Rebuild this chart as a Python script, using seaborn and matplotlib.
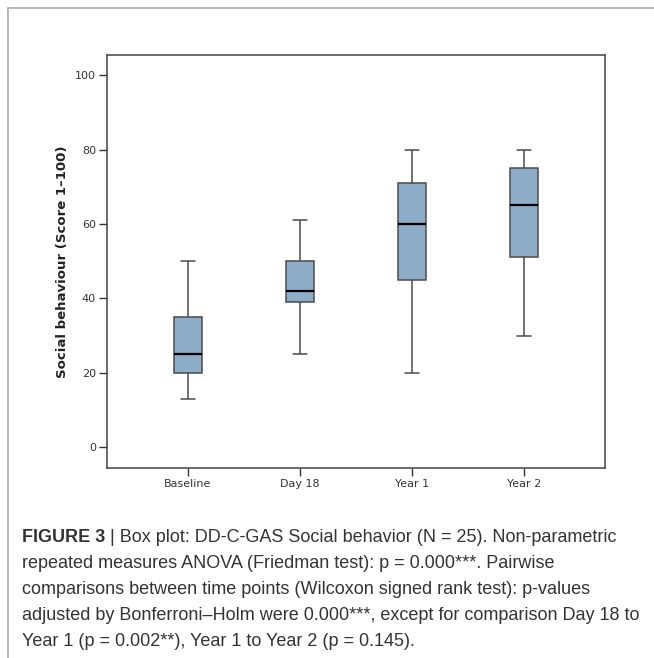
import matplotlib
matplotlib.use("Agg")
import matplotlib.pyplot as plt
import pandas as pd
import seaborn as sns

# five-number summaries (min, q1, median, q3, max)
timepoints = ["Baseline", "Day 18", "Year 1", "Year 2"]
baseline = [13, 20, 25, 35, 50]
day18 = [25, 39, 42, 50, 61]
year1 = [20, 45, 60, 71, 80]
year2 = [30, 51, 65, 75, 80]
yticks = [0, 20, 40, 60, 80, 100]

caption_bold = "FIGURE 3"
caption_lines = [
    " | Box plot: DD-C-GAS Social behavior (N = 25). Non-parametric",
    "repeated measures ANOVA (Friedman test): p = 0.000***. Pairwise",
    "comparisons between time points (Wilcoxon signed rank test): p-values",
    "adjusted by Bonferroni\u2013Holm were 0.000***, except for comparison Day 18 to",
    "Year 1 (p = 0.002**), Year 1 to Year 2 (p = 0.145).",
]

BOX = "#8EADC8"
EDGE = "#4a4a4a"

df = pd.DataFrame({
    "Time point": [t for t, v in zip(timepoints, [baseline, day18, year1, year2]) for _ in v],
    "Score": baseline + day18 + year1 + year2,
})

sns.set_style("ticks")
plt.rcParams["font.family"] = ["DejaVu Sans"]

fig = plt.figure(figsize=(6.54, 6.58), dpi=100)
ax = fig.add_axes([107 / 654, 1 - 468 / 658, 498 / 654, 413 / 658])

sns.boxplot(data=df, x="Time point", y="Score", ax=ax, color=BOX, saturation=1,
            width=0.25, linecolor=EDGE, linewidth=1.1, whis=1.5,
            medianprops=dict(color="black", linewidth=1.6))

ax.set_xlim(-0.723, 3.723)
ax.set_ylim(-5.6, 105.4)
ax.set_yticks(yticks)
ax.set_xlabel("")
ax.set_ylabel("Social behaviour (Score 1\u2013100)", fontsize=9.5, fontweight="bold",
              color="#222222", labelpad=4)
ax.tick_params(axis="both", labelsize=8, colors="#333333", length=6, width=1,
               direction="out", pad=2)
for s in ax.spines.values():
    s.set_visible(True)
    s.set_color("#444444")
    s.set_linewidth(1.1)

# outer frame of the figure panel
fig.add_artist(plt.Line2D([8 / 654, 1], [1 - 8 / 658, 1 - 8 / 658],
                          transform=fig.transFigure, color="#aaaaaa", lw=1.2))
fig.add_artist(plt.Line2D([8 / 654, 8 / 654], [0, 1 - 8 / 658],
                          transform=fig.transFigure, color="#aaaaaa", lw=1.2))

# caption
cap_font = ["Liberation Sans", "DejaVu Sans"]
cap_size = 13
ys = [537, 563, 590, 616, 642]
x0 = 22 / 654
t = fig.text(x0, 1 - ys[0] / 658, caption_bold, fontsize=cap_size, fontweight="bold",
             family=cap_font, va="center", color="#333333")
fig.canvas.draw()
bb = t.get_window_extent(renderer=fig.canvas.get_renderer())
fig.text(bb.x1 / fig.bbox.width, 1 - ys[0] / 658, caption_lines[0], fontsize=cap_size,
         family=cap_font, va="center", color="#333333")
for line, y in zip(caption_lines[1:], ys[1:]):
    fig.text(x0, 1 - y / 658, line, fontsize=cap_size, family=cap_font, va="center",
             color="#333333")

fig.savefig("out.png", dpi=100)
